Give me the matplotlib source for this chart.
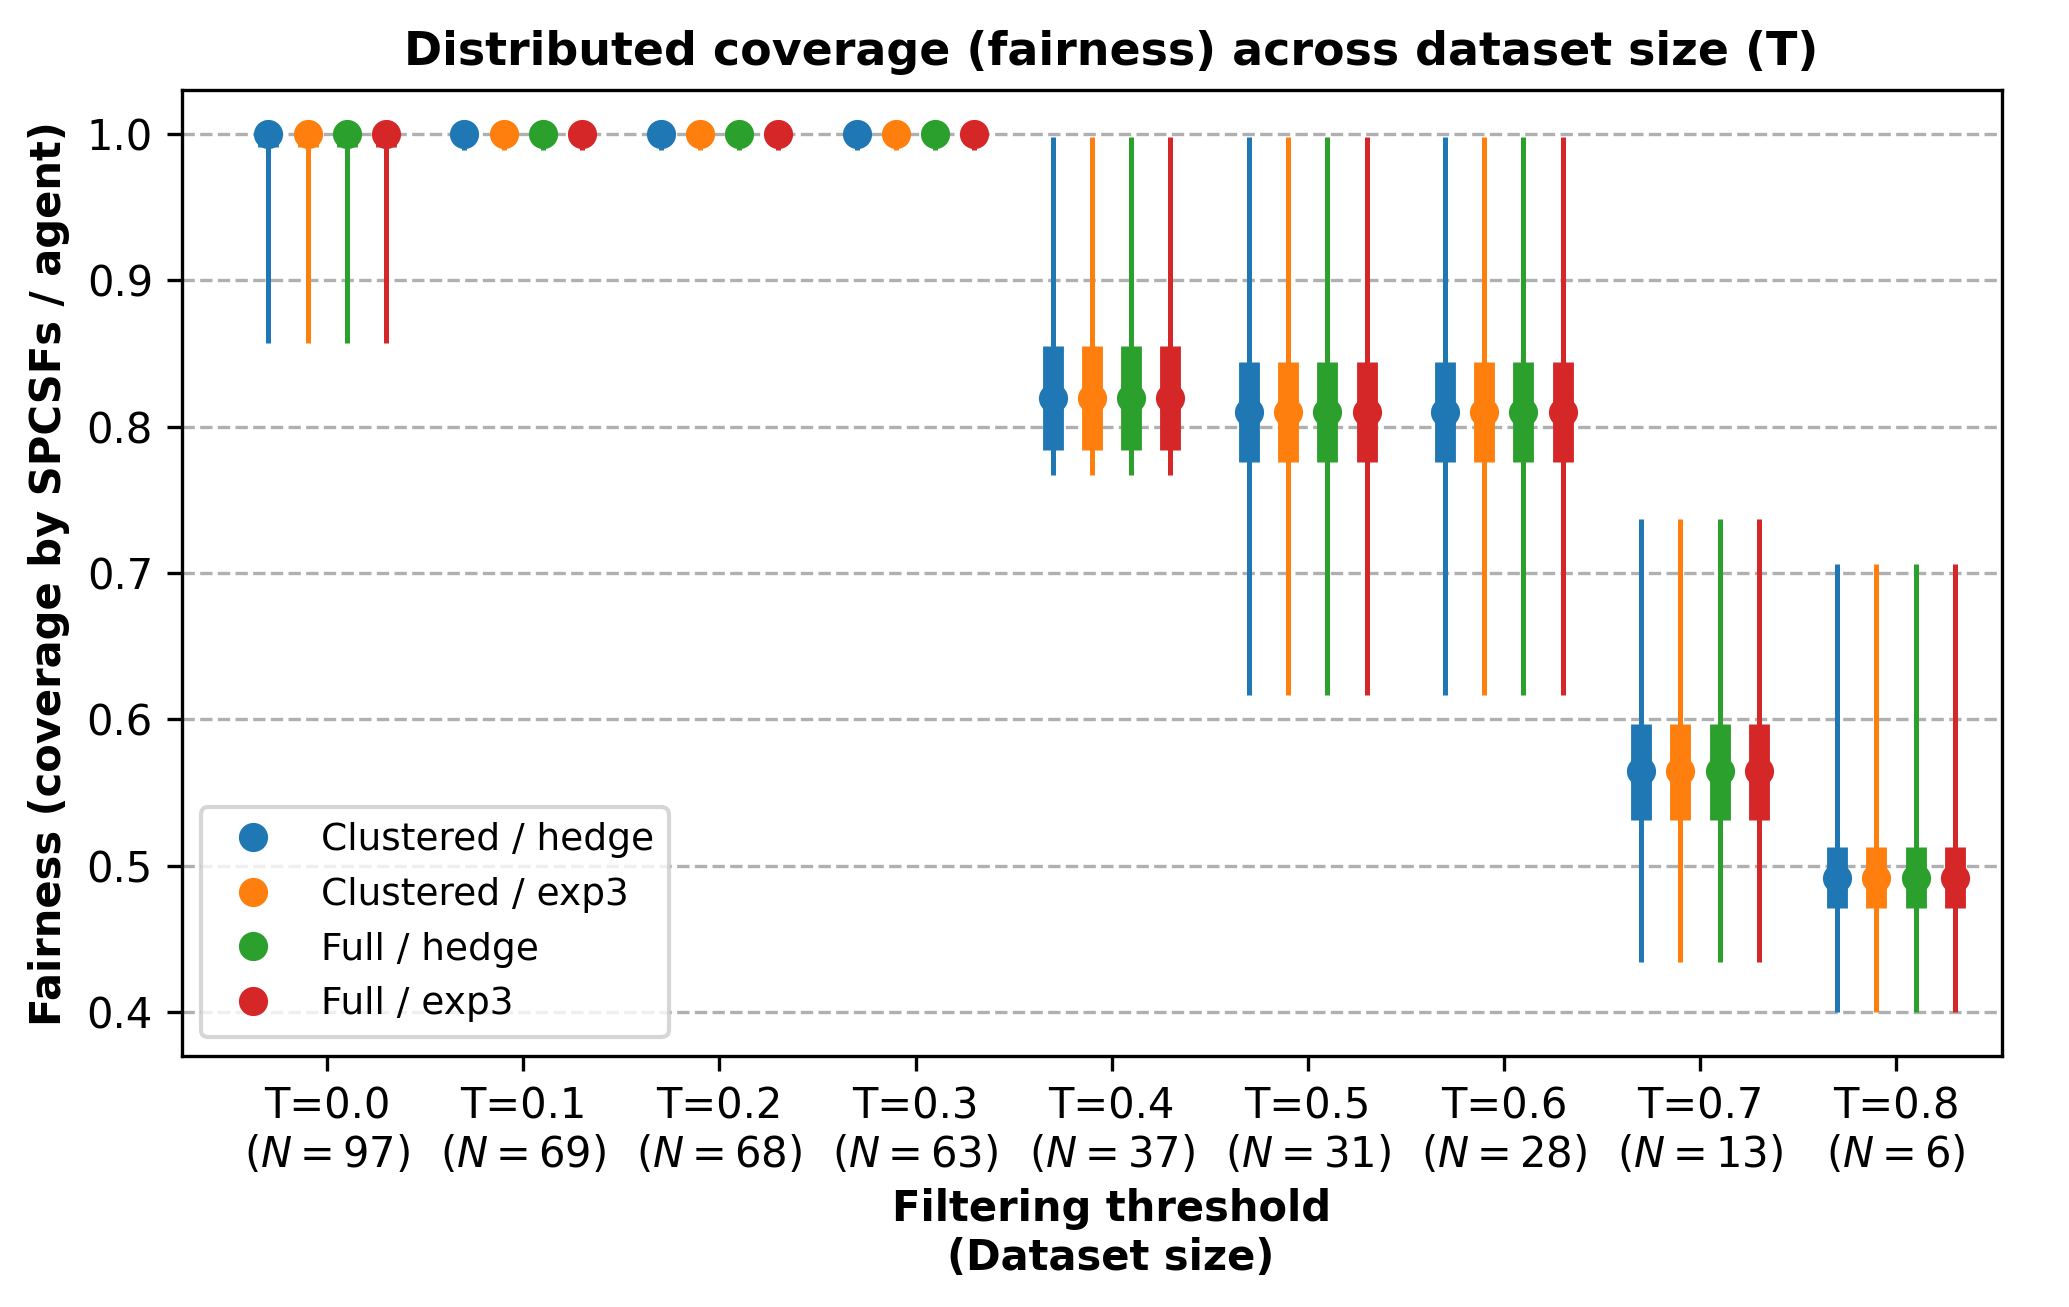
import numpy as np
import matplotlib
matplotlib.use("Agg")
import matplotlib.pyplot as plt
from matplotlib.lines import Line2D

# filtering thresholds and dataset sizes
thresholds = [0.0, 0.1, 0.2, 0.3, 0.4, 0.5, 0.6, 0.7, 0.8]
n_sizes = [97, 69, 68, 63, 37, 31, 28, 13, 6]

methods = ["Clustered / hedge", "Clustered / exp3", "Full / hedge", "Full / exp3"]
colors = ["#1f77b4", "#ff7f0e", "#2ca02c", "#d62728"]

# summary stats per threshold (the four methods coincide)
fair_min = [0.857, 0.989, 0.989, 0.989, 0.767, 0.617, 0.617, 0.434, 0.400]
fair_q1 = [0.991, 1.000, 1.000, 1.000, 0.784, 0.776, 0.776, 0.531, 0.471]
fair_med = [1.000, 1.000, 1.000, 1.000, 0.820, 0.810, 0.810, 0.565, 0.492]
fair_q3 = [1.000, 1.000, 1.000, 1.000, 0.855, 0.844, 0.844, 0.597, 0.513]
fair_max = [1.000, 1.000, 1.000, 1.000, 0.998, 0.998, 0.998, 0.737, 0.706]

stats = {m: dict(lo=fair_min, q1=fair_q1, med=fair_med, q3=fair_q3, hi=fair_max)
         for m in methods}

fig, ax = plt.subplots(figsize=(2069 / 300, 1307 / 300), dpi=300)
fig.subplots_adjust(left=0.088, right=0.9676, top=0.931, bottom=0.192)

x = np.arange(len(thresholds))
offsets = [-0.3, -0.1, 0.1, 0.3]

for m, c, off in zip(methods, colors, offsets):
    s = stats[m]
    xs = x + off
    ax.vlines(xs, s["lo"], s["hi"], color=c, lw=1.2, zorder=2)
    ax.vlines(xs, s["q1"], s["q3"], color=c, lw=5, zorder=3)
    ax.plot(xs, s["med"], "o", color=c, ms=6, zorder=4)

ax.set_xticks(x)
ax.set_xticklabels([f"T={t:.1f}\n$(N={n})$" for t, n in zip(thresholds, n_sizes)], fontsize=10)
ax.tick_params(axis="y", labelsize=10)
ax.set_xlim(-0.74, 8.54)

ax.yaxis.grid(True, linestyle="--", color="#b0b0b0", lw=0.8)

ax.set_title("Distributed coverage (fairness) across dataset size (T)",
             fontsize=11, fontweight="bold", x=0.5105)
ax.set_xlabel("Filtering threshold\n(Dataset size)", fontsize=10, fontweight="bold")
ax.xaxis.set_label_coords(0.5105, -0.137)
ax.set_ylabel("Fairness (coverage by SPCSFs / agent)", fontsize=10, fontweight="bold")

handles = [Line2D([], [], marker="o", linestyle="none", color=c) for c in colors]
ax.legend(handles, methods, loc="lower left", fontsize=9)

fig.savefig("out.png", dpi=300)
